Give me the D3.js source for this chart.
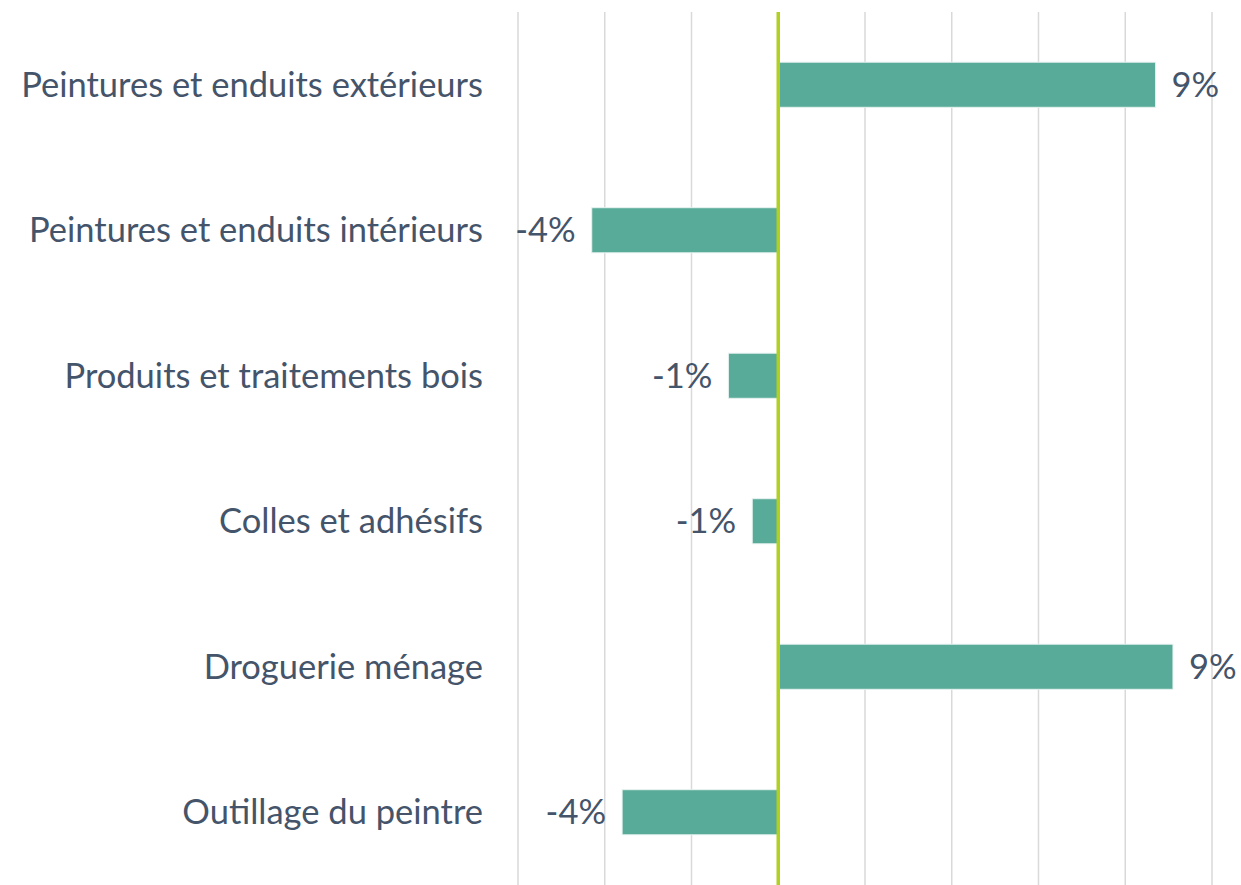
<!DOCTYPE html>
<html>
<head>
<meta charset="utf-8">
<script src="https://cdn.jsdelivr.net/npm/d3@7"></script>
<style>
  body { margin: 0; background: #fff; }
  svg { display: block; }
</style>
</head>
<body>
<div id="chart"></div>
<script>
const categories = [
  'Peintures et enduits extérieurs',
  'Peintures et enduits intérieurs',
  'Produits et traitements bois',
  'Colles et adhésifs',
  'Droguerie ménage',
  'Outillage du peintre'
]
const values = [8.7, -4.3, -1.15, -0.6, 9.1, -3.6]
const valueLabels = ['9%', '-4%', '-1%', '-1%', '9%', '-4%']
const gridTicks = [-6, -4, -2, 0, 2, 4, 6, 8, 10]

const width = 1241, height = 885
const margin = {top: 12, right: 29, bottom: 0, left: 518}

const svg = d3.select('#chart')
  .append('svg')
  .attr('width', width)
  .attr('height', height)

const x = d3.scaleLinear()
  .domain([-6, 10])
  .range([margin.left, width - margin.right])

const y = d3.scaleBand()
  .domain(categories)
  .range([margin.top, height - margin.bottom])
  .paddingInner(0.69)
  .paddingOuter(0.345)

// gridlines
svg.append('g')
  .selectAll('line')
  .data(gridTicks.filter(d => d !== 0))
  .enter()
  .append('line')
  .attr('x1', d => x(d))
  .attr('x2', d => x(d))
  .attr('y1', margin.top)
  .attr('y2', height)
  .attr('stroke', '#d9d9d9')
  .attr('stroke-width', 1.5)

// bars
svg.append('g')
  .selectAll('rect')
  .data(categories)
  .enter()
  .append('rect')
  .attr('x', (d, i) => x(Math.min(0, values[i])))
  .attr('y', d => y(d))
  .attr('width', (d, i) => Math.abs(x(values[i]) - x(0)))
  .attr('height', y.bandwidth())
  .attr('fill', '#59ab99')
  .attr('stroke', '#e8f3f0')
  .attr('stroke-width', 1)

// zero line
svg.append('line')
  .attr('x1', x(0))
  .attr('x2', x(0))
  .attr('y1', margin.top)
  .attr('y2', height)
  .attr('stroke', '#b0d022')
  .attr('stroke-width', 3.5)

// category labels
svg.append('g')
  .selectAll('text')
  .data(categories)
  .enter()
  .append('text')
  .attr('x', 483)
  .attr('y', d => y(d) + y.bandwidth() / 2)
  .attr('dy', '0.35em')
  .attr('text-anchor', 'end')
  .attr('fill', '#44546a')
  .style('font-family', 'Lato, sans-serif')
  .style('font-size', '34.5px')
  .text(d => d)

// value labels
svg.append('g')
  .selectAll('text')
  .data(categories)
  .enter()
  .append('text')
  .attr('x', (d, i) => values[i] >= 0 ? x(values[i]) + 16 : x(values[i]) - 16)
  .attr('y', d => y(d) + y.bandwidth() / 2)
  .attr('dy', '0.35em')
  .attr('text-anchor', (d, i) => values[i] >= 0 ? 'start' : 'end')
  .attr('fill', '#44546a')
  .style('font-family', 'Lato, sans-serif')
  .style('font-size', '34.5px')
  .text((d, i) => valueLabels[i])
</script>
</body>
</html>
